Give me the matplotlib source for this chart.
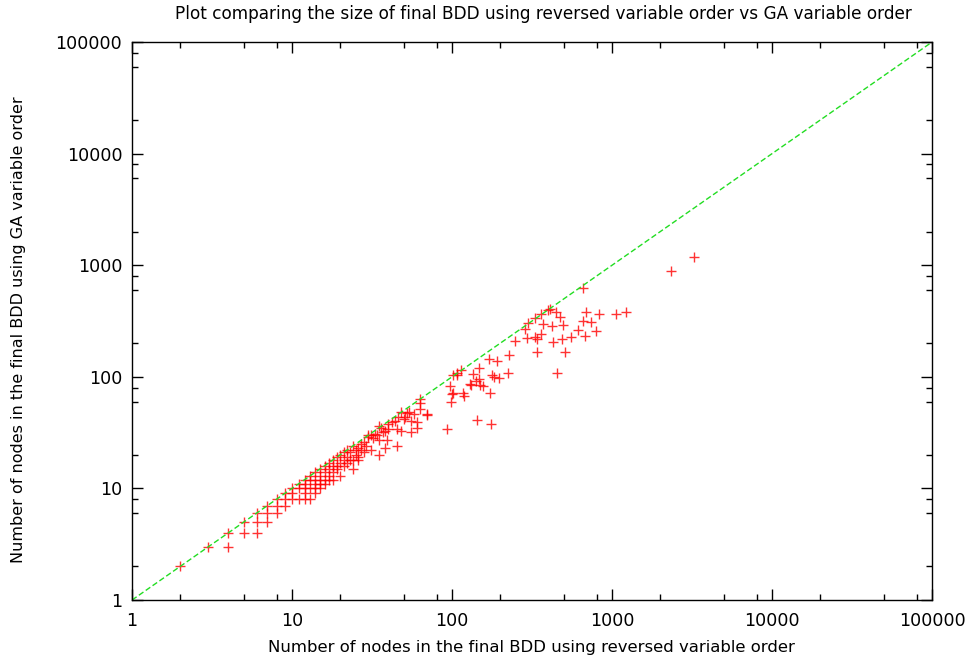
import numpy as np
import matplotlib
matplotlib.use("Agg")
import matplotlib.pyplot as plt
from matplotlib.ticker import FixedLocator, NullFormatter

# final BDD sizes: (reversed order, GA order)
rev_small = [2, 3, 4, 4, 5, 5, 6, 6, 6, 7, 7, 7, 8, 8, 8, 9, 9, 9, 10, 10, 10,
             11, 11, 11, 12, 12, 12, 12, 12, 13, 13, 13, 13, 14, 14, 14, 14, 14,
             15, 15, 15, 15, 15, 16, 16, 16, 16, 17, 17, 17, 17, 18, 18, 18, 18,
             19, 19, 19, 20, 20, 20, 21, 21, 21, 22, 22, 22, 23, 23, 24, 24, 24,
             25, 25, 26, 26, 26, 27, 27, 28, 28, 29, 30, 30, 31, 31, 32, 33, 34,
             35, 35, 35, 36, 37, 38, 38, 39, 40, 40, 42, 44, 45, 45, 46, 48, 48,
             50, 51, 52, 54, 55, 55, 58, 60, 60, 63, 63, 63, 70, 70, 93]
ga_small = [2, 3, 4, 3, 5, 4, 6, 5, 4, 7, 6, 5, 8, 7, 6, 9, 8, 7, 10, 9, 8,
            11, 10, 8, 12, 11, 10, 9, 8, 13, 12, 10, 8, 14, 12, 11, 10, 9,
            15, 13, 12, 11, 10, 16, 14, 12, 11, 17, 15, 13, 12, 18, 16, 14, 12,
            19, 16, 15, 20, 17, 13, 21, 18, 16, 22, 19, 17, 21, 18, 24, 18, 15,
            22, 20, 23, 19, 18, 25, 22, 26, 21, 24, 30, 29, 30, 22, 28, 31, 30,
            36, 27, 20, 35, 32, 33, 23, 27, 38, 34, 39, 40, 34, 24, 44, 48, 33,
            42, 44, 47, 48, 40, 32, 46, 39, 35, 63, 51, 58, 46, 45, 34]

rev_large = [97, 98, 100, 102, 102, 108, 108, 113, 117, 118, 130, 131, 136, 142,
             144, 147, 147, 150, 155, 170, 172, 174, 177, 182, 190, 196, 223, 226,
             249, 284, 295, 298, 332, 332, 337, 340, 357, 357, 371, 400, 408, 419,
             429, 444, 454, 472, 488, 492, 505, 550, 615, 660, 660, 673, 683, 734,
             788, 827, 1051, 1227, 2322, 3228]
ga_large = [82, 59, 70, 71, 103, 109, 103, 114, 71, 67, 87, 84, 105, 91,
            41, 120, 96, 84, 82, 145, 71, 38, 103, 100, 138, 98, 109, 158,
            208, 269, 224, 305, 337, 228, 166, 216, 362, 240, 300, 395, 401, 287,
            206, 379, 109, 345, 219, 294, 166, 226, 262, 627, 315, 231, 379, 309,
            256, 369, 362, 379, 879, 1172]

ticks = [1, 10, 100, 1000, 10000, 100000]
tick_labels = ["1", "10", "100", "1000", "10000", "100000"]


def main():
    plt.rcParams['font.family'] = ['DejaVu Sans']
    fig = plt.figure(figsize=(9.71, 6.61), dpi=100)
    ax = fig.add_axes([0.136, 0.0923, 0.824, 0.8442])

    xs = np.array(rev_small + rev_large, dtype=float)
    ys = np.array(ga_small + ga_large, dtype=float)

    ax.plot(xs, ys, linestyle='none', marker='+', markersize=7.5,
            markeredgewidth=1.0, color='#ff0000', alpha=0.8)
    ax.plot([1, 100000], [1, 100000], linestyle=(0, (4, 2)), color='#22dd22',
            linewidth=1.0)

    ax.set_xscale('log')
    ax.set_yscale('log')
    ax.set_xlim(1, 100000)
    ax.set_ylim(1, 100000)

    ax.xaxis.set_major_locator(FixedLocator(ticks))
    ax.yaxis.set_major_locator(FixedLocator(ticks))
    ax.set_xticklabels(tick_labels)
    ax.set_yticklabels(tick_labels)
    decades = [10 ** k for k in range(5)]
    ax.xaxis.set_minor_locator(FixedLocator([d * m for d in decades for m in (2, 5, 8)]))
    ax.yaxis.set_minor_locator(FixedLocator([d * m for d in decades for m in (2, 6, 8)]))
    ax.xaxis.set_minor_formatter(NullFormatter())
    ax.yaxis.set_minor_formatter(NullFormatter())

    ax.tick_params(which='both', direction='in', top=True, right=True,
                   labelsize=12.6, width=1.0)
    ax.tick_params(which='major', length=8)
    ax.tick_params(axis='x', which='major', pad=9)
    ax.tick_params(axis='y', which='major', pad=7)
    ax.tick_params(which='minor', length=4)
    for s in ax.spines.values():
        s.set_linewidth(1.0)

    ax.text(0.514, 1.050,
            "Plot comparing the size of final BDD using reversed variable order vs GA variable order",
            transform=ax.transAxes, ha='center', va='center', fontsize=12.2)
    ax.set_xlabel("Number of nodes in the final BDD using reversed variable order",
                  fontsize=11.85)
    ax.xaxis.label.set_va('center')
    ax.xaxis.set_label_coords(0.499, -0.086)
    ax.set_ylabel("Number of nodes in the final BDD using GA variable order",
                  fontsize=11.55)
    ax.yaxis.label.set_va('center')
    ax.yaxis.set_label_coords(-0.1425, 0.484)

    fig.savefig("out.png", dpi=100)


if __name__ == "__main__":
    main()
